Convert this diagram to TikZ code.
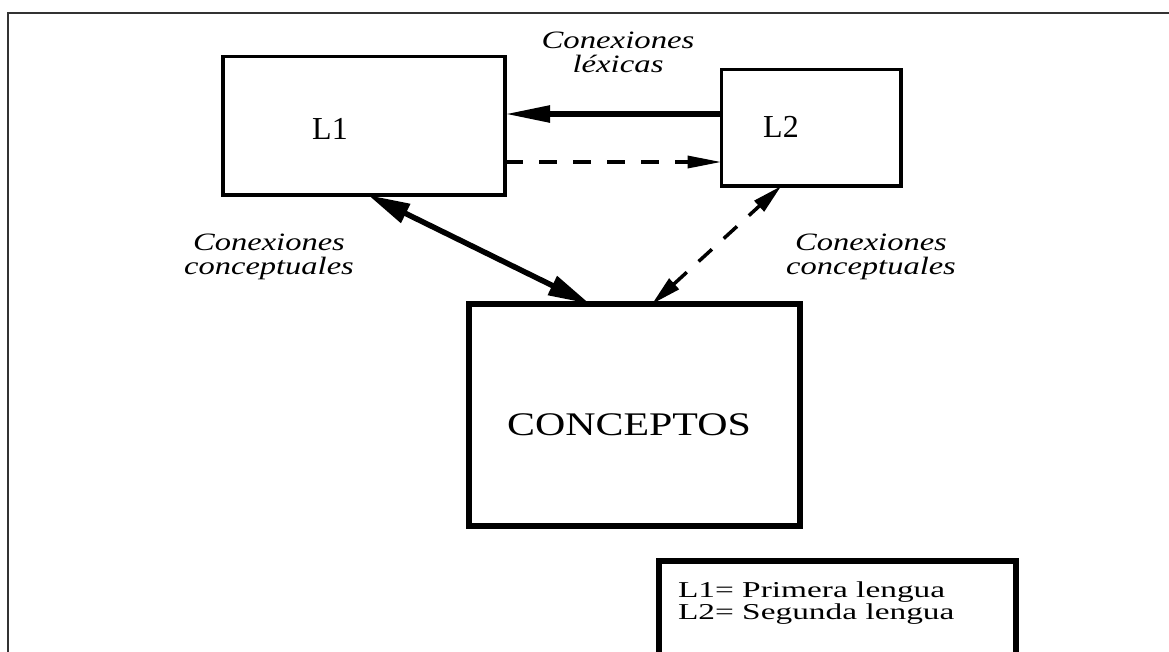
\documentclass[tikz,border=0pt]{standalone}
\usepackage{fontspec}
\setmainfont{Liberation Serif}
\usepackage{graphicx}
\usetikzlibrary{arrows.meta}
\newcommand{\blocktext}[4]{\scalebox{#1}[1]{\fontsize{#2}{#3}\selectfont\renewcommand{\arraystretch}{1}#4}}
\begin{document}
\begin{tikzpicture}[x=1pt,y=-1pt,
  thinbox/.style={draw, line width=3.5pt, inner sep=0pt, outer sep=0pt},
  thickbox/.style={draw, line width=6.5pt, inner sep=0pt, outer sep=0pt},
  lbl/.style={inner sep=0pt, outer sep=0pt, anchor=base},
  solidarrow/.style={line width=5.5pt},
  dasharrow/.style={line width=3.5pt, dash pattern=on 18pt off 16pt},
  bigtip/.style={-{Triangle[length=45pt,width=16pt]}},
  dbltip/.style={{Triangle[length=42pt,width=20pt]}-{Triangle[length=42pt,width=20pt]}},
  dashtip/.style={-{Triangle[length=34pt,width=12pt]}},
  dbldashtip/.style={{Triangle[length=30pt,width=14pt]}-{Triangle[length=30pt,width=14pt]}},
]
\useasboundingbox (0,0) rectangle (1169,651);
\clip (0,0) rectangle (1169,651);
\fill[white] (0,0) rectangle (1169,651);
% frame
\coordinate (ftl) at (8,13);
\coordinate (ftr) at (1175,13);
\coordinate (fbl) at (8,660);
\draw[line width=1.5pt, black!80] (fbl) -- (ftl) -- (ftr);

% boxes
\node[thinbox, minimum width=282pt, minimum height=138.5pt] (L1) at (364,125.75) {};
\node[thinbox, minimum width=179.5pt, minimum height=116.5pt] (L2) at (811.25,127.75) {};
\node[thickbox, minimum width=331pt, minimum height=222pt] (C) at (634.5,415) {};
\node[thickbox, minimum width=357pt, minimum height=150pt] (leg) at (837.5,636) {};

% box texts
\node[lbl] (t1) at (330,139) {\fontsize{32}{36}\selectfont L1};
\node[lbl] (t2) at (781,137) {\fontsize{32}{36}\selectfont L2};
\node[lbl] (tc) at (629,435) {\blocktext{1.27}{33}{36}{CONCEPTOS}};
\node[lbl, anchor=base west] (tleg) at (678,597) {\blocktext{1.47}{22.7}{22}{\begin{tabular}[t]{@{}l@{}}L1= Primera lengua\\L2= Segunda lengua\end{tabular}}};

% labels
\node[lbl] (lex) at (618,48) {\blocktext{1.31}{25}{24}{\itshape\begin{tabular}[t]{@{}c@{}}Conexiones\\léxicas\end{tabular}}};
\node[lbl] (cl) at (269,250) {\blocktext{1.3}{25}{24}{\itshape\begin{tabular}[t]{@{}c@{}}Conexiones\\conceptuales\end{tabular}}};
\node[lbl] (cr) at (871,250) {\blocktext{1.3}{25}{24}{\itshape\begin{tabular}[t]{@{}c@{}}Conexiones\\conceptuales\end{tabular}}};

% connectors
\draw[solidarrow, bigtip] ([yshift=13.75pt]L2.west) -- ([yshift=11.75pt]L1.east);
\draw[dasharrow, dashtip] ([yshift=-36.25pt]L1.east) -- ([yshift=-34.25pt]L2.west);
\draw[solidarrow, dbltip] ([xshift=4pt]L1.south) -- ([xshift=-44.5pt]C.north);
\draw[dasharrow, dbldashtip] ([xshift=17.5pt]C.north) -- ([xshift=-30pt]L2.south);
\end{tikzpicture}
\end{document}
